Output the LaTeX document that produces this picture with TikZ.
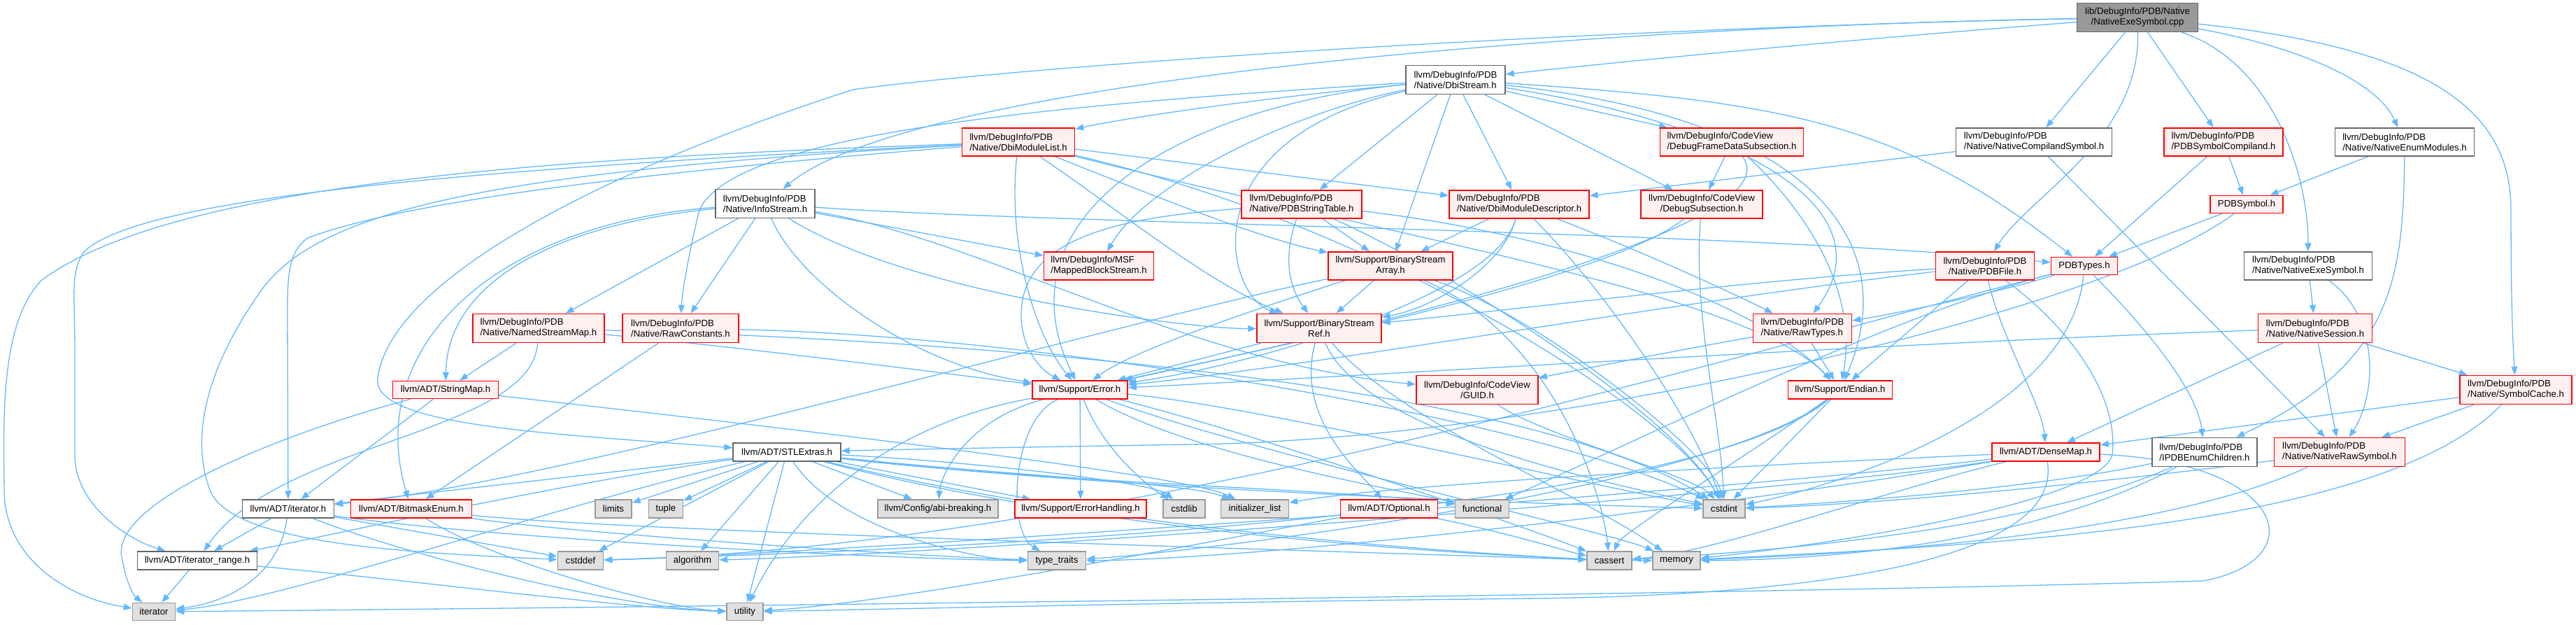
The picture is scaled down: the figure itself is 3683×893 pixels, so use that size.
\documentclass[tikz,border=0pt]{standalone}
\usepackage{fontspec}
\setmainfont{Liberation Sans}
\usetikzlibrary{arrows.meta}
\definecolor{cedge}{HTML}{63B8FF}
\definecolor{cpink}{HTML}{FFF0F0}
\definecolor{cgrayfill}{HTML}{E0E0E0}
\definecolor{cgrayline}{HTML}{999999}
\definecolor{cdark}{HTML}{666666}
\definecolor{ctop}{HTML}{999999}
\pgfdeclarelayer{bg}
\pgfsetlayers{bg,main}
\newcommand\nfont{\fontsize{13.2pt}{15pt}\selectfont}
\tikzset{
  nd/.style={draw, line width=1.5pt, inner sep=0pt, font=\nfont, text=black},
  wnode/.style={nd, draw=cdark, fill=white},
  rnode/.style={nd, draw=red, fill=cpink},
  snode/.style={nd, draw=cgrayline, fill=cgrayfill},
  tnode/.style={nd, draw=cdark, fill=ctop},
  lnk/.style={draw=cedge, line width=1.3pt, -{Triangle[length=12pt,width=9pt]}},
}
\begin{document}
\begin{tikzpicture}[x=1pt,y=-1pt]
\useasboundingbox (0,0) rectangle (3683,893);
% ---------- nodes ----------
\node[tnode, minimum width=173pt, minimum height=41pt, align=center] (top) at (3056,25) {lib/DebugInfo/PDB/Native\\/NativeExeSymbol.cpp};
\node[wnode, minimum width=142pt, minimum height=41pt, align=left] (dbis) at (2081,114) {llvm/DebugInfo/PDB\\/Native/DbiStream.h};
\node[wnode, minimum width=142pt, minimum height=41pt, align=left] (info) at (1094,291) {llvm/DebugInfo/PDB\\/Native/InfoStream.h};
\node[rnode, minimum width=161pt, minimum height=40pt, align=left] (dml) at (1456,203) {llvm/DebugInfo/PDB\\/Native/DbiModuleList.h};
\node[rnode, minimum width=172pt, minimum height=40pt, align=left] (pst) at (1861,292) {llvm/DebugInfo/PDB\\/Native/PDBStringTable.h};
\node[rnode, minimum width=200pt, minimum height=40pt, align=left] (dmd) at (2172,292) {llvm/DebugInfo/PDB\\/Native/DbiModuleDescriptor.h};
\node[rnode, minimum width=205pt, minimum height=40pt, align=left] (dfds) at (2476,203) {llvm/DebugInfo/CodeView\\/DebugFrameDataSubsection.h};
\node[rnode, minimum width=174pt, minimum height=40pt, align=center] (dss) at (2433,292) {llvm/DebugInfo/CodeView\\/DebugSubsection.h};
\node[wnode, minimum width=223pt, minimum height=40pt, align=left] (ncs) at (2908,203) {llvm/DebugInfo/PDB\\/Native/NativeCompilandSymbol.h};
\node[rnode, minimum width=170pt, minimum height=40pt, align=left] (psc) at (3179,203) {llvm/DebugInfo/PDB\\/PDBSymbolCompiland.h};
\node[wnode, minimum width=199pt, minimum height=40pt, align=left] (nem) at (3438,203) {llvm/DebugInfo/PDB\\/Native/NativeEnumModules.h};
\node[rnode, minimum width=104pt, minimum height=25pt] (psym) at (3212,292) {PDBSymbol.h};
\node[rnode, minimum width=157pt, minimum height=40pt, align=left] (mbs) at (1571,380) {llvm/DebugInfo/MSF\\/MappedBlockStream.h};
\node[rnode, minimum width=178pt, minimum height=40pt, align=center] (bsa) at (1988,380) {llvm/Support/BinaryStream\\Array.h};
\node[rnode, minimum width=141pt, minimum height=40pt, align=center] (pdbf) at (2838,380) {llvm/DebugInfo/PDB\\/Native/PDBFile.h};
\node[rnode, minimum width=95pt, minimum height=25pt] (pdbt) at (2980,380) {PDBTypes.h};
\node[wnode, minimum width=183pt, minimum height=40pt, align=left] (nes) at (3300,380) {llvm/DebugInfo/PDB\\/Native/NativeExeSymbol.h};
\node[rnode, minimum width=188pt, minimum height=41pt, align=left] (nsm) at (770,469) {llvm/DebugInfo/PDB\\/Native/NamedStreamMap.h};
\node[rnode, minimum width=166pt, minimum height=41pt, align=left] (rc) at (973,469) {llvm/DebugInfo/PDB\\/Native/RawConstants.h};
\node[rnode, minimum width=178pt, minimum height=41pt, align=center] (bsr) at (1886,469) {llvm/Support/BinaryStream\\Ref.h};
\node[rnode, minimum width=141pt, minimum height=41pt, align=left] (rt) at (2577,469) {llvm/DebugInfo/PDB\\/Native/RawTypes.h};
\node[rnode, minimum width=163pt, minimum height=41pt, align=left] (nsess) at (3310,469) {llvm/DebugInfo/PDB\\/Native/NativeSession.h};
\node[rnode, minimum width=151pt, minimum height=25pt] (smap) at (637,557) {llvm/ADT/StringMap.h};
\node[rnode, minimum width=136pt, minimum height=26pt] (err) at (1544,557) {llvm/Support/Error.h};
\node[rnode, minimum width=174pt, minimum height=41pt, align=center] (guid) at (2112,557) {llvm/DebugInfo/CodeView\\/GUID.h};
\node[rnode, minimum width=149pt, minimum height=26pt] (endian) at (2631,557) {llvm/Support/Endian.h};
\node[rnode, minimum width=160pt, minimum height=41pt, align=left] (scache) at (3597,557) {llvm/DebugInfo/PDB\\/Native/SymbolCache.h};
\node[wnode, minimum width=154pt, minimum height=26pt] (stl) at (1125,646) {llvm/ADT/STLExtras.h};
\node[rnode, minimum width=154pt, minimum height=26pt] (dmap) at (2925,646) {llvm/ADT/DenseMap.h};
\node[wnode, minimum width=150pt, minimum height=41pt, align=left] (ipdbec) at (3152,646) {llvm/DebugInfo/PDB\\/IPDBEnumChildren.h};
\node[rnode, minimum width=187pt, minimum height=41pt, align=left] (nrs) at (3345,646) {llvm/DebugInfo/PDB\\/Native/NativeRawSymbol.h};
\node[wnode, minimum width=131pt, minimum height=26pt] (iter) at (412,727) {llvm/ADT/iterator.h};
\node[rnode, minimum width=173pt, minimum height=26pt] (bme) at (588,727) {llvm/ADT/BitmaskEnum.h};
\node[snode, minimum width=52pt, minimum height=26pt] (limits) at (877,727) {limits};
\node[snode, minimum width=49pt, minimum height=26pt] (tuple) at (952,727) {tuple};
\node[snode, minimum width=172pt, minimum height=26pt] (abi) at (1341,727) {llvm/Config/abi-breaking.h};
\node[rnode, minimum width=188pt, minimum height=26pt] (eh) at (1545,727) {llvm/Support/ErrorHandling.h};
\node[snode, minimum width=60pt, minimum height=26pt] (cstdlib) at (1693,727) {cstdlib};
\node[snode, minimum width=97pt, minimum height=26pt] (initl) at (1794,727) {initializer\_list};
\node[rnode, minimum width=139pt, minimum height=26pt] (opt) at (1986,727) {llvm/ADT/Optional.h};
\node[snode, minimum width=77pt, minimum height=26pt] (functional) at (2119,727) {functional};
\node[snode, minimum width=60pt, minimum height=26pt] (cstdint) at (2465,727) {cstdint};
\node[wnode, minimum width=171pt, minimum height=26pt] (itr) at (282,801) {llvm/ADT/iterator\_range.h};
\node[snode, minimum width=65pt, minimum height=26pt] (cstddef) at (830,801) {cstddef};
\node[snode, minimum width=75pt, minimum height=26pt] (algorithm) at (990,801) {algorithm};
\node[snode, minimum width=83pt, minimum height=26pt] (typetraits) at (1511,801) {type\_traits};
\node[snode, minimum width=64pt, minimum height=26pt] (cassert) at (2301,801) {cassert};
\node[snode, minimum width=68pt, minimum height=26pt] (memory) at (2397,801) {memory};
\node[snode, minimum width=61pt, minimum height=25pt] (iterator) at (220,874) {iterator};
\node[snode, minimum width=52pt, minimum height=25pt] (utility) at (1065,874) {utility};
% ---------- edges ----------
\begin{pgfonlayer}{bg}
% top
\draw[lnk] (top) .. controls (3250,90) and (3300,250) .. (nes);
\draw[lnk] (top) .. controls (3300,70) and (3400,120) .. (nem);
\draw[lnk] (top) -- (psc);
\draw[lnk] (top) -- (ncs);
\draw[lnk] (top) .. controls (3060,200) and (2900,280) .. (pdbf);
\draw[lnk] (top) .. controls (3480,70) and (3590,160) .. (3590,300) .. controls (3590,420) and (3592,480) .. (scache);
\draw[lnk] (top) .. controls (2600,60) and (2300,90) .. (dbis);
\draw[lnk] (top) .. controls (2200,40) and (1300,120) .. (info);
\draw[lnk] (top) .. controls (2300,40) and (1500,90) .. (1220,128) .. controls (900,230) and (560,390) .. (540,540) .. controls (530,610) and (800,620) .. (stl);
% dbis
\draw[lnk] (dbis) -- (dfds);
\draw[lnk] (dbis) -- (dss);
\draw[lnk] (dbis) -- (dmd);
\draw[lnk] (dbis) -- (bsa);
\draw[lnk] (dbis) -- (pst);
\draw[lnk] (dbis) .. controls (1800,140) and (1600,170) .. (dml);
\draw[lnk] (dbis) .. controls (1850,160) and (1640,260) .. (mbs);
\draw[lnk] (dbis) .. controls (1500,150) and (1050,190) .. (1000,300) .. controls (985,360) and (975,420) .. (rc);
\draw[lnk] (dbis) .. controls (1700,150) and (1420,300) .. (err);
\draw[lnk] (dbis) .. controls (1700,200) and (1750,420) .. (bsr);
\draw[lnk] (dbis) .. controls (2550,145) and (2720,175) .. (pdbt);
\draw[lnk] (dbis) .. controls (2500,180) and (2700,300) .. (rt);
\draw[lnk] (dbis) .. controls (2600,170) and (2720,350) .. (endian);
% info
\draw[lnk] (info) .. controls (800,320) and (640,400) .. (smap);
\draw[lnk] (info) .. controls (700,320) and (520,500) .. (bme);
\draw[lnk] (info) -- (nsm);
\draw[lnk] (info) -- (rc);
\draw[lnk] (info) .. controls (1140,400) and (1300,520) .. (err);
\draw[lnk] (info) .. controls (1300,420) and (1700,470) .. (bsr);
\draw[lnk] (info) -- (mbs);
\draw[lnk] (info) .. controls (1500,320) and (2500,330) .. (pdbt);
\draw[lnk] (info) .. controls (1400,340) and (1700,520) .. (guid);
% dml
\draw[lnk] (dml) .. controls (800,225) and (250,260) .. (60,400) .. controls (0,460) and (5,600) .. (6,700) .. controls (6,800) and (100,855) .. (iterator);
\draw[lnk] (dml) .. controls (700,240) and (200,280) .. (120,360) .. controls (100,390) and (107,420) .. (107,500) -- (107,650) .. controls (107,720) and (180,770) .. (itr);
\draw[lnk] (dml) .. controls (700,245) and (450,300) .. (370,420) .. controls (300,520) and (270,620) .. (300,700) .. controls (330,780) and (600,790) .. (cstddef);
\draw[lnk] (dml) .. controls (1000,240) and (600,280) .. (440,340) .. controls (411,360) and (411,400) .. (411,450) -- (iter);
\draw[lnk] (dml) -- (dmd);
\draw[lnk] (dml) .. controls (1650,280) and (1800,340) .. (bsa);
\draw[lnk] (dml) .. controls (1600,300) and (1720,400) .. (bsr);
\draw[lnk] (dml) .. controls (2000,340) and (2500,420) .. (endian);
\draw[lnk] (dml) .. controls (1440,350) and (1480,480) .. (err);
\draw[lnk] (dml) .. controls (2000,330) and (2400,600) .. (cstdint);
% pst
\draw[lnk] (pst) -- (bsa);
\draw[lnk] (pst) .. controls (1830,380) and (1850,420) .. (bsr);
\draw[lnk] (pst) .. controls (1600,310) and (1460,340) .. (1460,450) .. controls (1460,500) and (1490,530) .. (err);
\draw[lnk] (pst) .. controls (2200,330) and (2500,420) .. (endian);
\draw[lnk] (pst) .. controls (2100,400) and (2400,600) .. (cstdint);
% dmd
\draw[lnk] (dmd) -- (bsa);
\draw[lnk] (dmd) .. controls (2150,380) and (2050,440) .. (bsr);
\draw[lnk] (dmd) .. controls (2140,420) and (1800,520) .. (err);
\draw[lnk] (dmd) .. controls (2350,360) and (2480,420) .. (rt);
\draw[lnk] (dmd) .. controls (2300,420) and (2420,600) .. (cstdint);
% dfds
\draw[lnk] (dfds) -- (dss);
\draw[lnk] (dfds) .. controls (2570,330) and (1900,480) .. (err);
\draw[lnk] (dfds) .. controls (2560,280) and (2660,400) .. (endian);
% dss
\draw[lnk] (dss) .. controls (2300,400) and (1800,500) .. (err);
\draw[lnk] (dss) .. controls (2420,450) and (2460,600) .. (cstdint);
% ncs, psc, nem, psym
\draw[lnk] (ncs) -- (dmd);
\draw[lnk] (ncs) -- (nrs);
\draw[lnk] (psc) -- (psym);
\draw[lnk] (psc) -- (pdbt);
\draw[lnk] (nem) -- (psym);
\draw[lnk] (nem) .. controls (3436,400) and (3420,520) .. (ipdbec);
\draw[lnk] (psym) -- (pdbt);
\draw[lnk] (psym) .. controls (3000,450) and (2200,630) .. (1700,635) .. controls (1400,640) and (1250,643) .. (stl);
% pdbf
\draw[lnk] (pdbf) .. controls (2500,400) and (2100,450) .. (bsr);
\draw[lnk] (pdbf) .. controls (2400,430) and (1900,520) .. (err);
\draw[lnk] (pdbf) -- (endian);
\draw[lnk] (pdbf) .. controls (2860,480) and (2920,580) .. (dmap);
\draw[lnk] (pdbf) .. controls (2950,460) and (3030,560) .. (3020,650) .. controls (3000,720) and (2600,780) .. (memory);
% pdbt
\draw[lnk] (pdbt) .. controls (2850,420) and (2700,450) .. (rt);
\draw[lnk] (pdbt) .. controls (3050,450) and (3140,550) .. (ipdbec);
\draw[lnk] (pdbt) .. controls (2700,450) and (2300,650) .. (functional);
\draw[lnk] (pdbt) .. controls (2500,500) and (1600,780) .. (cstddef);
\draw[lnk] (pdbt) .. controls (2960,600) and (2600,700) .. (cstdint);
% nes, nsess, scache
\draw[lnk] (nes) -- (nsess);
\draw[lnk] (nes) .. controls (3400,450) and (3400,560) .. (nrs);
\draw[lnk] (nsess) -- (scache);
\draw[lnk] (nsess) -- (nrs);
\draw[lnk] (nsess) .. controls (2700,490) and (1900,540) .. (err);
\draw[lnk] (nsess) -- (dmap);
\draw[lnk] (scache) -- (dmap);
\draw[lnk] (scache) -- (nrs);
\draw[lnk] (scache) .. controls (3400,760) and (2800,780) .. (memory);
% nrs, ipdbec
\draw[lnk] (nrs) .. controls (3000,690) and (2700,720) .. (cstdint);
\draw[lnk] (nrs) .. controls (3100,760) and (2700,790) .. (memory);
\draw[lnk] (ipdbec) .. controls (2900,700) and (2600,720) .. (cstdint);
\draw[lnk] (ipdbec) .. controls (2900,760) and (2500,790) .. (cassert);
\draw[lnk] (ipdbec) .. controls (2900,780) and (2600,800) .. (memory);
% dmap
\draw[lnk] (dmap) .. controls (2600,700) and (1400,790) .. (algorithm);
\draw[lnk] (dmap) .. controls (2700,700) and (2450,790) .. (cassert);
\draw[lnk] (dmap) .. controls (2500,700) and (1200,790) .. (cstddef);
\draw[lnk] (dmap) .. controls (2600,660) and (2000,690) .. (initl);
\draw[lnk] (dmap) .. controls (2500,720) and (1800,800) .. (typetraits);
\draw[lnk] (dmap) .. controls (2950,800) and (2600,850) .. (2200,855) .. controls (1700,860) and (1300,870) .. (utility);
\draw[lnk] (dmap) .. controls (3270,660) and (3310,800) .. (3150,830) .. controls (2500,850) and (700,870) .. (iterator);
% opt, guid, endian, rt, rc, nsm
\draw[lnk] (opt) .. controls (2150,760) and (2250,790) .. (cassert);
\draw[lnk] (opt) .. controls (1800,760) and (1300,860) .. (utility);
\draw[lnk] (guid) .. controls (2200,620) and (2420,680) .. (cstdint);
\draw[lnk] (endian) .. controls (2500,650) and (2320,760) .. (cassert);
\draw[lnk] (endian) .. controls (2400,750) and (1200,790) .. (cstddef);
\draw[lnk] (endian) -- (cstdint);
\draw[lnk] (endian) .. controls (2450,700) and (1700,790) .. (typetraits);
\draw[lnk] (rt) .. controls (2400,500) and (2250,530) .. (guid);
\draw[lnk] (rt) -- (endian);
\draw[lnk] (rc) -- (bme);
\draw[lnk] (rc) .. controls (1500,480) and (2200,600) .. (cstdint);
\draw[lnk] (nsm) -- (smap);
\draw[lnk] (nsm) .. controls (760,620) and (400,630) .. (itr);
\draw[lnk] (nsm) .. controls (1100,500) and (1400,540) .. (err);
\draw[lnk] (nsm) .. controls (1500,490) and (2200,560) .. (cstdint);
% bsa, bsr
\draw[lnk] (bsa) .. controls (1600,460) and (800,690) .. (iter);
\draw[lnk] (bsa) -- (bsr);
\draw[lnk] (bsa) .. controls (1800,440) and (1620,500) .. (err);
\draw[lnk] (bsa) .. controls (2220,480) and (2290,700) .. (cassert);
\draw[lnk] (bsa) .. controls (2200,450) and (2450,650) .. (cstdint);
\draw[lnk] (bsr) .. controls (1850,600) and (1950,680) .. (opt);
\draw[lnk] (bsr) -- (err);
\draw[lnk] (bsr) .. controls (1950,620) and (2300,690) .. (cstdint);
\draw[lnk] (bsr) .. controls (2000,600) and (2250,700) .. (memory);
% err
\draw[lnk] (err) .. controls (1380,600) and (1345,680) .. (abi);
\draw[lnk] (err) -- (eh);
\draw[lnk] (err) .. controls (1800,620) and (2200,760) .. (cassert);
\draw[lnk] (err) .. controls (1800,580) and (2300,700) .. (cstdint);
\draw[lnk] (err) .. controls (1580,650) and (1650,700) .. (cstdlib);
\draw[lnk] (err) .. controls (1700,650) and (2000,700) .. (functional);
\draw[lnk] (err) .. controls (1800,650) and (2300,760) .. (memory);
\draw[lnk] (err) .. controls (1445,600) and (1440,760) .. (typetraits);
\draw[lnk] (err) .. controls (1300,600) and (1150,700) .. (utility);
% stl
\draw[lnk] (stl) -- (iter);
\draw[lnk] (stl) .. controls (800,690) and (450,770) .. (itr);
\draw[lnk] (stl) .. controls (800,720) and (400,860) .. (iterator);
\draw[lnk] (stl) -- (abi);
\draw[lnk] (stl) -- (eh);
\draw[lnk] (stl) -- (algorithm);
\draw[lnk] (stl) .. controls (1600,760) and (2100,790) .. (cassert);
\draw[lnk] (stl) -- (cstddef);
\draw[lnk] (stl) .. controls (1600,700) and (2200,720) .. (cstdint);
\draw[lnk] (stl) .. controls (1400,660) and (1650,690) .. (cstdlib);
\draw[lnk] (stl) .. controls (1500,690) and (1950,700) .. (functional);
\draw[lnk] (stl) .. controls (1450,680) and (1700,690) .. (initl);
\draw[lnk] (stl) -- (limits);
\draw[lnk] (stl) .. controls (1600,770) and (2200,800) .. (memory);
\draw[lnk] (stl) -- (tuple);
\draw[lnk] (stl) .. controls (1200,760) and (1400,800) .. (typetraits);
\draw[lnk] (stl) -- (utility);
% iter, itr, bme, smap
\draw[lnk] (iter) -- (itr);
\draw[lnk] (iter) -- (cstddef);
\draw[lnk] (iter) .. controls (400,820) and (330,860) .. (iterator);
\draw[lnk] (iter) .. controls (700,770) and (1300,800) .. (typetraits);
\draw[lnk] (iter) .. controls (600,800) and (900,870) .. (utility);
\draw[lnk] (itr) -- (iterator);
\draw[lnk] (itr) .. controls (600,830) and (900,870) .. (utility);
\draw[lnk] (bme) .. controls (900,760) and (2000,790) .. (cassert);
\draw[lnk] (bme) .. controls (800,760) and (1300,795) .. (typetraits);
\draw[lnk] (bme) .. controls (700,800) and (950,870) .. (utility);
\draw[lnk] (smap) -- (iter);
\draw[lnk] (smap) .. controls (1200,620) and (1700,680) .. (initl);
\draw[lnk] (smap) .. controls (400,620) and (150,720) .. (175,800) .. controls (180,830) and (190,850) .. (iterator);
\end{pgfonlayer}
\end{tikzpicture}
\end{document}
